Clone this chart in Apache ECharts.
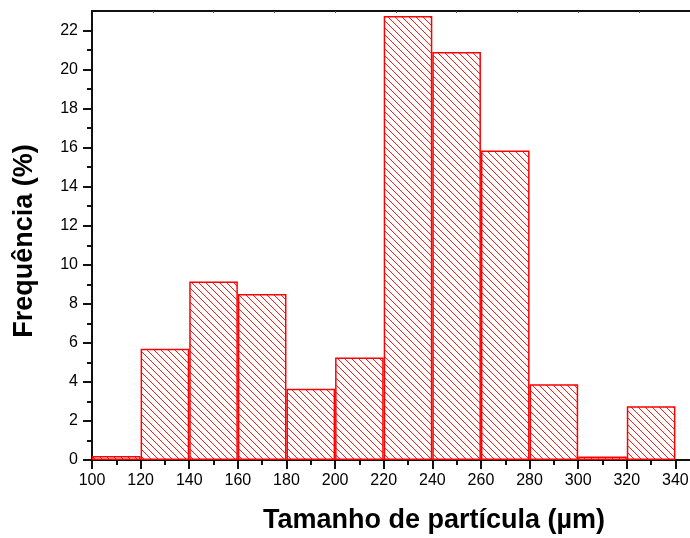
<!DOCTYPE html>
<html>
<head>
<meta charset="utf-8">
<script src="https://cdn.jsdelivr.net/npm/echarts@6/dist/echarts.min.js"></script>
<style>
  html, body { margin: 0; padding: 0; background: #fff; }
  #chart { width: 690px; height: 538px; }
</style>
</head>
<body>
<div id="chart"></div>
<script>
// bins: start of each 20 µm class
const binStarts = [100, 120, 140, 160, 180, 200, 220, 240, 260, 280, 300, 320]
const binWidth = 20
// frequency (%) per bin
const freq = [0.2, 5.7, 9.15, 8.5, 3.65, 5.25, 22.75, 20.9, 15.85, 3.88, 0.18, 2.75]

const xTicks = [100, 120, 140, 160, 180, 200, 220, 240, 260, 280, 300, 320, 340]
const xMinorTicks = [110, 130, 150, 170, 190, 210, 230, 250, 270, 290, 310, 330]
const xTopTicks = [125, 150, 175, 200, 225, 250, 275, 300, 325]
const yTicks = [0, 2, 4, 6, 8, 10, 12, 14, 16, 18, 20, 22]
const yMinorTicks = [1, 3, 5, 7, 9, 11, 13, 15, 17, 19, 21]

// hatch pattern: red "\" lines
function makeHatch () {
  const c = document.createElement('canvas')
  const s = 7
  c.width = s
  c.height = s
  const ctx = c.getContext('2d')
  ctx.fillStyle = '#fff'
  ctx.fillRect(0, 0, s, s)
  ctx.strokeStyle = 'rgba(255,0,0,0.9)'
  ctx.lineWidth = 1
  ;[-s, 0, s].forEach(k => {
    ctx.beginPath()
    ctx.moveTo(k - 1, -1)
    ctx.lineTo(k + s + 1, s + 1)
    ctx.stroke()
  })
  return c
}

const font = '"Liberation Sans", Arial, sans-serif'
const lineColor = '#111'

const chart = echarts.init(document.getElementById('chart'))
const option = {
  animation: false,
  grid: { left: 92, right: 0, top: 11, bottom: 78, outerBoundsMode: 'none', containLabel: false },
  xAxis: [
    {
      type: 'value',
      min: 100,
      max: 346,
      position: 'bottom',
      name: 'Tamanho de partícula (µm)',
      nameLocation: 'middle',
      nameGap: 47,
      nameTextStyle: { fontFamily: font, fontSize: 27, fontWeight: 'bold', color: '#000', padding: [0, 0, 0, 86] },
      splitLine: { show: false },
      axisLine: { show: true, lineStyle: { color: lineColor, width: 2 } },
      axisTick: { show: true, customValues: xTicks, length: 9, lineStyle: { color: lineColor, width: 2 } },
      axisLabel: { customValues: xTicks, margin: 13, fontFamily: font, fontSize: 16, color: '#000' }
    },
    {
      type: 'value',
      min: 100,
      max: 346,
      position: 'bottom',
      splitLine: { show: false },
      axisLine: { show: false },
      axisTick: { show: true, customValues: xMinorTicks, length: 5, lineStyle: { color: lineColor, width: 2 } },
      axisLabel: { show: false }
    },
    {
      type: 'value',
      min: 100,
      max: 346,
      position: 'top',
      splitLine: { show: false },
      axisLine: { show: true, lineStyle: { color: lineColor, width: 2 } },
      axisTick: { show: true, inside: true, customValues: xTopTicks, length: 2, lineStyle: { color: '#555', width: 1 } },
      axisLabel: { show: false }
    }
  ],
  yAxis: [
    {
      type: 'value',
      min: 0,
      max: 23,
      position: 'left',
      name: 'Frequência (%)',
      nameLocation: 'middle',
      nameGap: 54,
      nameTextStyle: { fontFamily: font, fontSize: 27, fontWeight: 'bold', color: '#000', padding: [0, 11, 0, 0] },
      splitLine: { show: false },
      axisLine: { show: true, lineStyle: { color: lineColor, width: 2 } },
      axisTick: { show: true, customValues: yTicks, length: 9, lineStyle: { color: lineColor, width: 2 } },
      axisLabel: { customValues: yTicks, margin: 14, fontFamily: font, fontSize: 16, color: '#000' }
    },
    {
      type: 'value',
      min: 0,
      max: 23,
      position: 'left',
      splitLine: { show: false },
      axisLine: { show: false },
      axisTick: { show: true, customValues: yMinorTicks, length: 5, lineStyle: { color: lineColor, width: 2 } },
      axisLabel: { show: false }
    }
  ],
  series: [
    {
      type: 'bar',
      xAxisIndex: 0,
      yAxisIndex: 0,
      barWidth: '100%',
      data: binStarts.map((b, i) => [b + binWidth / 2, freq[i]]),
      itemStyle: {
        color: { image: makeHatch(), repeat: 'repeat' },
        borderColor: '#ff0000',
        borderWidth: 1.5
      },
      emphasis: { disabled: true }
    }
  ]
}
chart.setOption(option)
</script>
</body>
</html>
